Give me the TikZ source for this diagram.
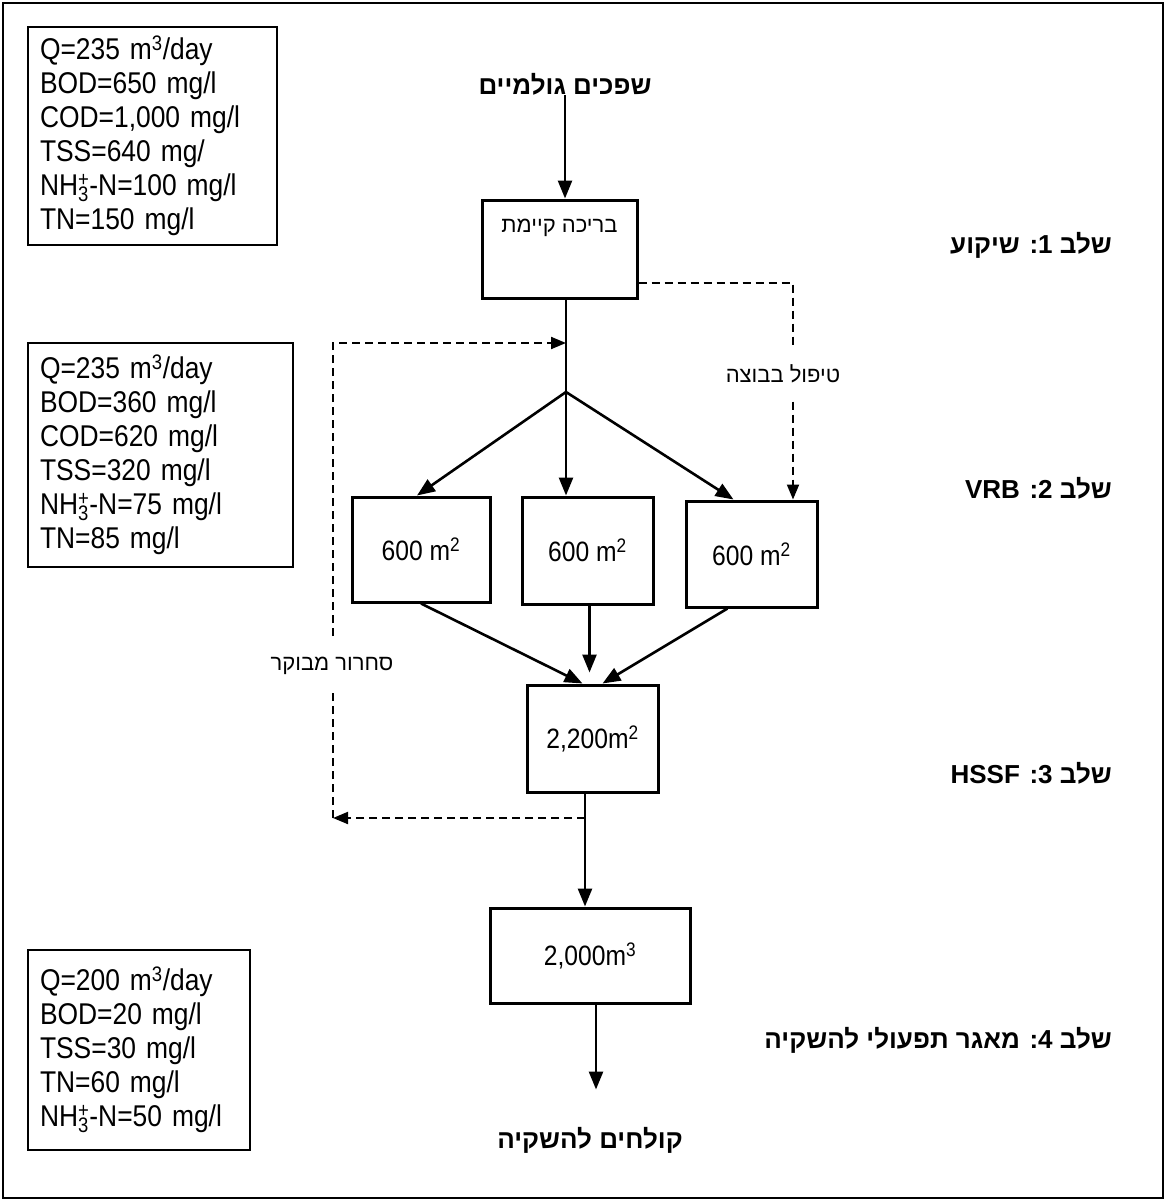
\documentclass[tikz,border=0pt]{standalone}
\usepackage{fontspec}
\setmainfont{Liberation Sans}
\newfontfamily\heb[Script=Hebrew]{Liberation Sans}
\newfontfamily\narrow[FakeStretch=0.88]{Liberation Sans}
\TeXXeTstate=1
\usetikzlibrary{arrows.meta,calc}
\tikzset{
  frame/.style={draw, line width=1.4pt},
  info/.style={draw, line width=2pt, inner xsep=12pt, inner ysep=0pt, align=left,
    font=\narrow\fontsize{30}{34}\selectfont},
  box/.style={draw, line width=3pt, inner sep=0pt, font=\narrow\fontsize{28}{32}\selectfont},
  arr/.style={line width=2.6pt, -{Triangle[length=18pt,width=14pt]}},
  dsh/.style={line width=2pt, dash pattern=on 8pt off 5pt},
  dsharr/.style={dsh, -{Triangle[length=15pt,width=12pt]}},
  stage/.style={anchor=east, inner sep=0pt, font=\heb\bfseries\fontsize{26}{30}\selectfont},
  ttl/.style={inner sep=0pt, font=\heb\bfseries\fontsize{26}{30}\selectfont},
  lbl/.style={font=\heb\fontsize{22}{26}\selectfont},
}
\begin{document}
\begin{tikzpicture}[x=1pt,y=-1pt]
\useasboundingbox (0,0) rectangle (1166,1204);
\draw[frame] (3,3) rectangle (1163,1198);

% info boxes
\node[info, text width=225pt, minimum height=218pt] (info1) at (152.5,136)
  {Q=235 m\textsuperscript{3}/day\\BOD=650 mg/l\\COD=1,000 mg/l\\TSS=640 mg/\\NH\rlap{\textsubscript{3}}\textsuperscript{+}-N=100 mg/l\\TN=150 mg/l};
\node[info, text width=241pt, minimum height=224pt] (info2) at (160.5,455)
  {Q=235 m\textsuperscript{3}/day\\BOD=360 mg/l\\COD=620 mg/l\\TSS=320 mg/l\\NH\rlap{\textsubscript{3}}\textsuperscript{+}-N=75 mg/l\\TN=85 mg/l};
\node[info, text width=198pt, minimum height=200pt] (info3) at (139,1050)
  {Q=200 m\textsuperscript{3}/day\\BOD=20 mg/l\\TSS=30 mg/l\\TN=60 mg/l\\NH\rlap{\textsubscript{3}}\textsuperscript{+}-N=50 mg/l};

% title and output
\node[ttl] (raw) at (565,84) {\beginR שפכים גולמיים\endR};
\node[ttl] (out) at (590,1140) {\beginR קולחים להשקיה\endR};

% process boxes
\node[box, minimum width=155pt, minimum height=98pt] (pool) at (559.5,249) {};
\node[lbl] (pooltext) at (559.5,228) {\beginR בריכה קיימת\endR};
\node[box, minimum width=138pt, minimum height=105pt] (vrbL) at (421,549.5) {600 m\textsuperscript{2}};
\node[box, minimum width=131pt, minimum height=107pt] (vrbM) at (587.5,550.5) {600 m\textsuperscript{2}};
\node[box, minimum width=131pt, minimum height=106pt] (vrbR) at (751.5,554) {600 m\textsuperscript{2}};
\node[box, minimum width=131pt, minimum height=107pt] (hssf) at (592.5,738.5) {2,200m\textsuperscript{2}};
\node[box, minimum width=200pt, minimum height=95pt] (res) at (590,955.5) {2,000m\textsuperscript{3}};

% stage labels
\node[stage] (s1) at (1112,245) {\beginR שלב 1\kern0pt: שיקוע\endR};
\node[stage] (s2) at (1112,488) {\beginR שלב 2\kern0pt: \beginL VRB\endL\endR};
\node[stage] (s3) at (1112,773) {\beginR שלב 3\kern0pt: \beginL HSSF\endL\endR};
\node[stage] (s4) at (1112,1040) {\beginR שלב 4\kern0pt: מאגר תפעולי להשקיה\endR};

% coordinates
\coordinate (j) at (566,392);
\coordinate (jl) at (566,343);
\coordinate (cl) at (333,818);
\coordinate (rd) at (793,283);
\coordinate (hd) at (585,818);

% solid flow
\draw[arr] (raw.south) -- (raw.south |- pool.north);
\draw[arr] (pool.south -| j) -- (j |- vrbM.north);
\draw[arr] (j) -- ([xshift=-4pt]vrbL.north);
\draw[arr] (j) -- ([xshift=-18pt]vrbR.north);
\draw[arr] (vrbL.south) -- ([xshift=-10pt]hssf.north);
\draw[arr] ($(vrbM.south)+(2,0)$) -- ($(vrbM.south |- hssf.north)+(2,-11)$);
\draw[arr] ([xshift=-24pt]vrbR.south) -- ([xshift=10pt]hssf.north);
\draw[arr] (hssf.south -| hd) -- (hd |- res.north);
\draw[arr] ([xshift=6pt]res.south) -- ($(res.south)+(6,85)$);

% dashed loops
\draw[dsharr] (pool.east |- rd) -- (rd) -- (rd |- vrbR.north);
\draw[dsharr] (hd) -- (cl);
\draw[dsharr] (cl) |- (jl);

% labels over dashed lines
\node[lbl, fill=white, inner xsep=2pt, inner ysep=17pt] (sludge) at (783,374) {\beginR טיפול בבוצה\endR};
\node[lbl, fill=white, inner xsep=2pt, inner ysep=17pt] (recirc) at (332,666) {\beginR סחרור מבוקר\endR};
\end{tikzpicture}
\end{document}
